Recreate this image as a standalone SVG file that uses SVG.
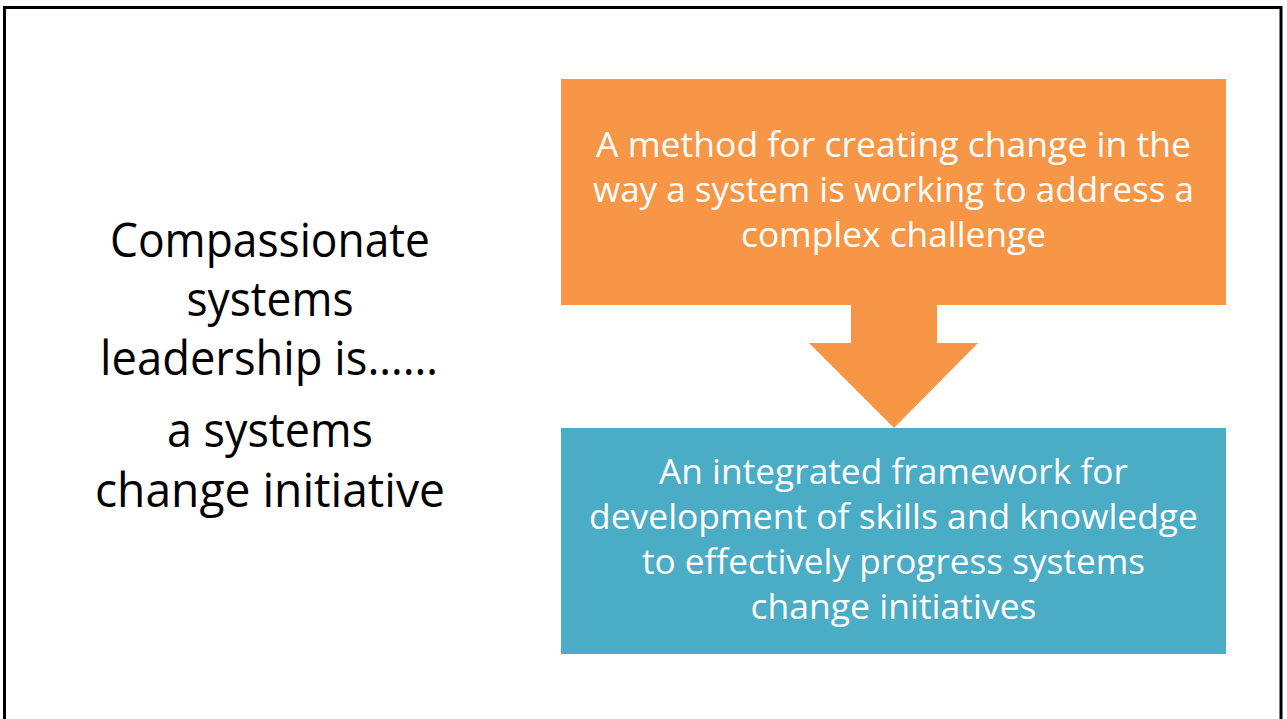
<svg xmlns="http://www.w3.org/2000/svg" width="1287" height="719" viewBox="0 0 1287 719">
<style>
.lt{font-family:"Open Sans","Liberation Sans",sans-serif;font-size:47px;fill:#000;text-anchor:middle}
.bt{font-family:"Open Sans","Liberation Sans",sans-serif;font-size:34px;fill:#fff;text-anchor:middle}
</style>
<rect x="0" y="0" width="1287" height="719" fill="#fff"/>
<rect x="4.5" y="7.5" width="1276.5" height="730" fill="none" stroke="#000" stroke-width="3"/>
<g id="title">
<text class="lt" x="270" y="257" textLength="320" lengthAdjust="spacingAndGlyphs">Compassionate</text>
<text class="lt" x="270" y="316" textLength="167" lengthAdjust="spacingAndGlyphs">systems</text>
<text class="lt" x="269" y="375" textLength="338" lengthAdjust="spacingAndGlyphs">leadership is……</text>
<text class="lt" x="270" y="447" textLength="206" lengthAdjust="spacingAndGlyphs">a systems</text>
<text class="lt" x="270" y="507" textLength="350" lengthAdjust="spacingAndGlyphs">change initiative</text>
</g>
<g id="connectors">
<polygon points="851,303 937,303 937,343 978,343 894,428 809,343 851,343" fill="#F79646"/>
</g>
<g id="method">
<rect x="561" y="79" width="665" height="226" fill="#F79646"/>
<text class="bt" x="893.5" y="157" textLength="595" lengthAdjust="spacingAndGlyphs">A method for creating change in the</text>
<text class="bt" x="893.5" y="202" textLength="601" lengthAdjust="spacingAndGlyphs">way a system is working to address a</text>
<text class="bt" x="893.5" y="247" textLength="305" lengthAdjust="spacingAndGlyphs">complex challenge</text>
</g>
<g id="framework">
<rect x="561" y="428" width="665" height="226" fill="#4BACC6"/>
<text class="bt" x="893.5" y="484" textLength="469" lengthAdjust="spacingAndGlyphs">An integrated framework for</text>
<text class="bt" x="893.5" y="529" textLength="609" lengthAdjust="spacingAndGlyphs">development of skills and knowledge</text>
<text class="bt" x="893.5" y="574" textLength="503" lengthAdjust="spacingAndGlyphs">to effectively progress systems</text>
<text class="bt" x="893.5" y="619" textLength="286" lengthAdjust="spacingAndGlyphs">change initiatives</text>
</g>
</svg>
